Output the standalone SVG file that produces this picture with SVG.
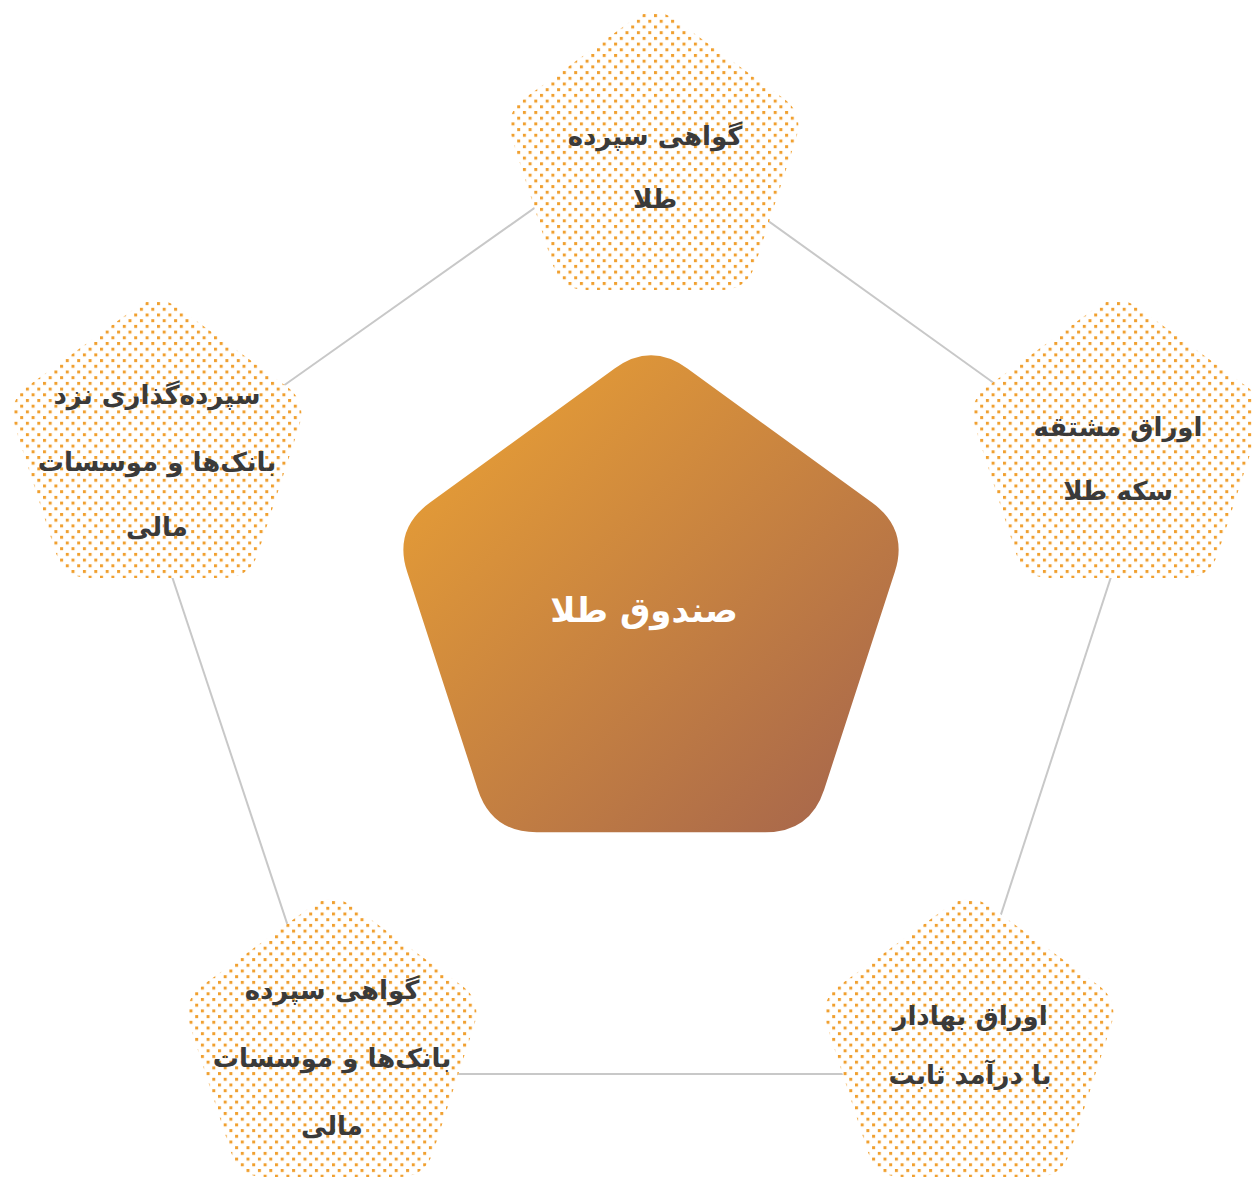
<svg xmlns="http://www.w3.org/2000/svg" xmlns:xlink="http://www.w3.org/1999/xlink" width="1252" height="1178" viewBox="0 0 1252 1178">
<defs>
<style>
.t{font-family:"DejaVu Sans",sans-serif;font-weight:bold;font-size:26px;fill:#3a3a3a;text-anchor:middle}
.c{font-family:"DejaVu Sans",sans-serif;font-weight:bold;font-size:34px;fill:#ffffff;text-anchor:middle}
.ln{stroke:#c8c8c8;stroke-width:2;fill:none}
.bg{fill:#ffffff}
.dt{fill:url(#dots)}
</style>
<pattern id="dots" patternUnits="userSpaceOnUse" width="11.4" height="11.4">
<rect x="0" y="0" width="3" height="3" fill="#f0a030"/>
<rect x="5.7" y="5.7" width="3" height="3" fill="#f0a030"/>
</pattern>
<linearGradient id="gold" x1="0" y1="0" x2="1" y2="1">
<stop offset="0" stop-color="#eea433"/>
<stop offset="1" stop-color="#a3634d"/>
</linearGradient>
<path id="ps" d="M 21.2,-142.6 L 129,-64.2 Q 150.2,-48.8 142.1,-23.9 L 101,102.9 Q 92.9,127.8 66.6,127.8 L -66.6,127.8 Q -92.9,127.8 -101,102.9 L -142.1,-23.9 Q -150.2,-48.8 -129,-64.2 L -21.2,-142.6 Q 0,-158 21.2,-142.6 Z"/>
</defs>
<rect width="1252" height="1178" fill="#ffffff"/>
<g id="connectors">
<line class="ln" x1="643" y1="131" x2="142" y2="486"/>
<line class="ln" x1="643" y1="131" x2="1140" y2="488"/>
<line class="ln" x1="142" y1="486" x2="337" y2="1074"/>
<line class="ln" x1="1140" y1="488" x2="949" y2="1074"/>
<line class="ln" x1="337" y1="1074" x2="949" y2="1074"/>
</g>
<g id="node-center">
<path transform="translate(651,613)" fill="url(#gold)" d="M 36.4,-244.55 L 221.3,-110.15 Q 257.7,-83.7 243.8,-40.93 L 173.2,176.43 Q 159.3,219.2 114.3,219.2 L -114.3,219.2 Q -159.3,219.2 -173.2,176.43 L -243.8,-40.93 Q -257.7,-83.7 -221.3,-110.15 L -36.4,-244.55 Q 0,-271 36.4,-244.55 Z"/>
<text class="c" x="644" y="622">صندوق طلا</text>
</g>
<g id="node-top" transform="translate(654,162.3)">
<use xlink:href="#ps" class="bg"/>
<use xlink:href="#ps" class="dt"/>
<text class="t" x="1" y="-17">گواهی سپرده</text>
<text class="t" x="1" y="46">طلا</text>
</g>
<g id="node-right" transform="translate(1117,450.3)">
<use xlink:href="#ps" class="bg"/>
<use xlink:href="#ps" class="dt"/>
<text class="t" x="1" y="-14">اوراق مشتقه</text>
<text class="t" x="1" y="50">سکه طلا</text>
</g>
<g id="node-bottom-right" transform="translate(969,1049.3)">
<use xlink:href="#ps" class="bg"/>
<use xlink:href="#ps" class="dt"/>
<text class="t" x="1" y="-24">اوراق بهادار</text>
<text class="t" x="1" y="35">با درآمد ثابت</text>
</g>
<g id="node-bottom-left" transform="translate(332,1049.3)">
<use xlink:href="#ps" class="bg"/>
<use xlink:href="#ps" class="dt"/>
<text class="t" x="0" y="-50">گواهی سپرده</text>
<text class="t" x="0" y="18">بانک&#x200C;ها و موسسات</text>
<text class="t" x="0" y="86">مالی</text>
</g>
<g id="node-left" transform="translate(157,450.3)">
<use xlink:href="#ps" class="bg"/>
<use xlink:href="#ps" class="dt"/>
<text class="t" x="0" y="-46">سپرده&#x200C;گذاری نزد</text>
<text class="t" x="0" y="21">بانک&#x200C;ها و موسسات</text>
<text class="t" x="0" y="86">مالی</text>
</g>
</svg>
